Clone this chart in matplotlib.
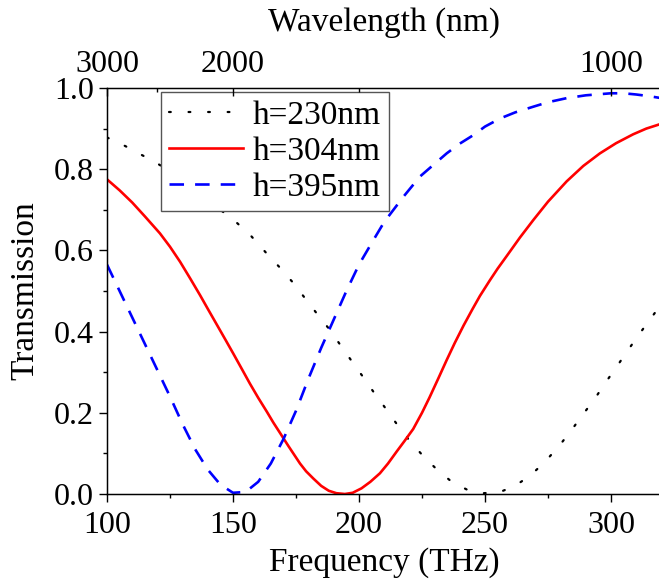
import matplotlib
matplotlib.use('Agg')
import matplotlib.pyplot as plt
from matplotlib.ticker import MultipleLocator, FixedLocator

# ---- data ----
f_230 = [100, 103.8, 109.1, 113.8, 118.4, 125, 132, 139, 145, 151.7, 157.4, 163.0, 168.7,
         173.9, 178.6, 183.2, 188.2, 192.6, 196.8, 201.3, 205.7, 210.3, 214.8, 219.6,
         225.1, 230.8, 236.8, 243.1, 249.3, 255.6, 261.9, 268.1, 273.9, 279.5, 284.4,
         289.0, 293.7, 297.9, 302.3, 306.6, 311.0, 315.5, 320]
t_230 = [0.878, 0.868, 0.851, 0.835, 0.820, 0.795, 0.765, 0.730, 0.700, 0.667, 0.634, 0.595,
         0.557, 0.520, 0.482, 0.445, 0.406, 0.367, 0.330, 0.291, 0.252, 0.213, 0.174,
         0.135, 0.096, 0.061, 0.030, 0.010, 0.002, 0.004, 0.020, 0.046, 0.080, 0.119,
         0.158, 0.197, 0.236, 0.275, 0.314, 0.353, 0.392, 0.430, 0.468]

f_304 = [100, 105, 110, 115, 121, 125, 129, 133, 136.9, 140, 143.5, 147, 150.1, 153.5,
         156.7, 160, 163.4, 166, 168.7, 172, 176.6, 179, 181.9, 185, 188, 191, 194.4,
         197.5, 201, 204.5, 208.3, 211.5, 215, 218, 221.5, 225, 228, 231.5, 234.8, 238,
         241.5, 245, 248, 252, 255, 258.6, 263.9, 269.2, 275, 282.4, 289, 295.6, 302,
         308.8, 314, 320]
t_304 = [0.775, 0.748, 0.718, 0.684, 0.642, 0.609, 0.572, 0.531, 0.490, 0.456, 0.418,
         0.380, 0.346, 0.308, 0.272, 0.237, 0.203, 0.176, 0.150, 0.118, 0.075, 0.056,
         0.038, 0.020, 0.008, 0.002, 0.0, 0.003, 0.014, 0.030, 0.051, 0.075, 0.105,
         0.130, 0.160, 0.200, 0.238, 0.285, 0.330, 0.372, 0.415, 0.455, 0.488, 0.527,
         0.555, 0.586, 0.632, 0.675, 0.720, 0.770, 0.808, 0.839, 0.864, 0.886, 0.900,
         0.912]

f_395 = [100, 105, 110, 115, 120, 125, 130, 135, 140, 145, 150, 155, 160, 165, 170, 175,
         180, 185, 190, 195, 200, 205, 210, 217.6, 224.2, 234.8, 240, 245.4, 250, 256,
         262, 269.2, 275, 282.4, 290, 300, 305, 310, 315, 320]
t_395 = [0.565, 0.500, 0.435, 0.370, 0.305, 0.240, 0.172, 0.110, 0.060, 0.023, 0.003,
         0.005, 0.030, 0.075, 0.135, 0.205, 0.285, 0.360, 0.430, 0.500, 0.565, 0.618,
         0.670, 0.732, 0.782, 0.839, 0.863, 0.884, 0.905, 0.925, 0.940, 0.954, 0.965,
         0.975, 0.982, 0.987, 0.987, 0.984, 0.980, 0.975]

labels = ['h=230nm', 'h=304nm', 'h=395nm']
x_ticks = [100, 150, 200, 250, 300]
y_ticks = [0.0, 0.2, 0.4, 0.6, 0.8, 1.0]
wl_major = [3000, 2000, 1000]
wl_minor = [2500, 1500]
C = 300000.0  # nm*THz (speed of light, rounded)

plt.rcParams['font.family'] = ['Liberation Serif', 'DejaVu Serif']
FS = 23
LFS = 24

fig = plt.figure(figsize=(6.59, 5.83), dpi=100)
ax = fig.add_axes([107 / 659, 89 / 583, (661.4 - 107) / 659, 406 / 583])

ax.plot(f_230, t_230, color='black', lw=1.6, linestyle=(0, (0.8, 8.0)),
        dash_capstyle='round', label=labels[0])
ax.plot(f_304, t_304, color='#ff0000', lw=1.9, label=labels[1])
ax.plot(f_395, t_395, color='#0000ff', lw=1.9, linestyle=(0, (5.5, 4.2)), label=labels[2])

ax.set_xlim(100, 320)
ax.set_ylim(0, 1.0)
ax.set_xticks(x_ticks)
ax.set_yticks(y_ticks)
ax.set_yticklabels([f'{v:.1f}' for v in y_ticks])
ax.xaxis.set_minor_locator(MultipleLocator(25))
ax.yaxis.set_minor_locator(MultipleLocator(0.1))
ax.tick_params(which='both', direction='out', top=False, right=False, labelsize=FS, width=1.0)
ax.tick_params(which='major', length=5.5)
ax.tick_params(which='minor', length=3)
ax.tick_params(axis='x', pad=7)
ax.tick_params(axis='y', pad=4)
for s in ['left', 'bottom', 'top']:
    ax.spines[s].set_linewidth(1.0)
ax.spines['right'].set_visible(False)

ax.set_xlabel('Frequency (THz)', fontsize=LFS, labelpad=5)
ax.set_ylabel('Transmission', fontsize=LFS, labelpad=10)

# top wavelength axis
ax2 = ax.twiny()
ax2.set_xlim(ax.get_xlim())
ax2.xaxis.set_major_locator(FixedLocator([C / w for w in wl_major]))
ax2.xaxis.set_minor_locator(FixedLocator([C / w for w in wl_minor]))
ax2.set_xticklabels([str(w) for w in wl_major])
ax2.tick_params(which='both', direction='in', labelsize=FS, width=1.0, pad=6.5)
ax2.tick_params(which='major', length=5.5)
ax2.tick_params(which='minor', length=3)
ax2.spines['right'].set_visible(False)
ax2.set_xlabel('Wavelength (nm)', fontsize=LFS, labelpad=14)

leg = ax.legend(loc='upper left', bbox_to_anchor=(0.0974, 0.99), borderaxespad=0,
                fontsize=LFS, frameon=True, fancybox=False, framealpha=1,
                edgecolor='#555555', handlelength=2.2, handletextpad=0.3,
                labelspacing=0.16, borderpad=0.25)
leg.get_frame().set_linewidth(1.0)
leg.set_zorder(5)

fig.savefig('out.png', dpi=100)
